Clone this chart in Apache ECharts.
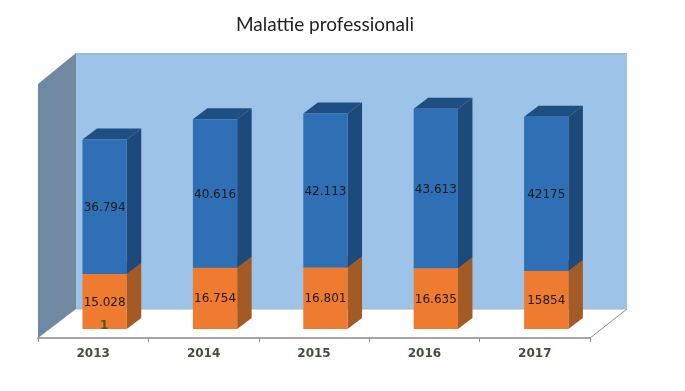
<!DOCTYPE html>
<html>
<head>
<meta charset="utf-8">
<style>html,body{margin:0;padding:0;background:#fff}#c{width:685px;height:391px}</style>
<script src="https://cdn.jsdelivr.net/npm/echarts@6/dist/echarts.min.js"></script>
</head>
<body>
<div id="c"></div>
<script>
const categories = ['2013', '2014', '2015', '2016', '2017'];
const orangeValues = [15028, 16754, 16801, 16635, 15854];
const blueValues = [36794, 40616, 42113, 43613, 42175];
const orangeLabels = ['15.028', '16.754', '16.801', '16.635', '15854'];
const blueLabels = ['36.794', '40.616', '42.113', '43.613', '42175'];
const thirdValues = [1, null, null, null, null];

const chart = echarts.init(document.getElementById('c'), null, {renderer: 'canvas'});
const DX = 14.5, DY = 11;

function barItem(colors, labels) {
  return function (params, api) {
    const i = api.value(0);
    const c = api.coord([i, api.value(1)]);
    const t = api.coord([i, api.value(2)]);
    const w = api.size([1, 0])[0];
    const x0 = c[0] - w * 0.097, x1 = c[0] + w * 0.304;
    const y0 = c[1], y1 = t[1];
    const children = [
      {type: 'polygon', shape: {points: [[x1, y0], [x1 + DX, y0 - DY], [x1 + DX, y1 - DY], [x1, y1]]}, style: {fill: colors.side}},
      {type: 'polygon', shape: {points: [[x0, y1], [x1, y1], [x1 + DX, y1 - DY], [x0 + DX, y1 - DY]]}, style: {fill: colors.top}},
      {type: 'rect', shape: {x: x0, y: y1, width: x1 - x0, height: y0 - y1}, style: {fill: colors.front}},
      {type: 'text', style: {x: (x0 + x1) / 2, y: (y0 + y1) / 2 + 1, text: labels[i], fill: '#1f1a1a',
        font: '12px "DejaVu Sans"', align: 'center', verticalAlign: 'middle'}}
    ];
    return {type: 'group', children};
  };
}

function wallItem(params) {
  const g = params.coordSys;
  const left = g.x, right = g.x + g.width;
  const front = g.y + g.height + 9, back = front - 29;
  const depth = 38;
  const frontTop = 84, backTop = 53;
  return {type: 'group', children: [
    {type: 'rect', shape: {x: left + depth, y: backTop, width: right - left - 1, height: back - backTop},
      style: {fill: '#9EC3E8'}},
    {type: 'rect', shape: {x: left + depth, y: backTop, width: right - left - 1, height: 2},
      style: {fill: '#9DB9D8'}},
    {type: 'polygon', shape: {points: [[left, frontTop], [left + depth, backTop], [left + depth, back], [left, front]]},
      style: {fill: new echarts.graphic.LinearGradient(0, 0, 1, 0, [
        {offset: 0, color: '#6C88A4'}, {offset: 1, color: '#74899E'}])}},
    {type: 'line', shape: {x1: left + depth, y1: back, x2: right + depth - 1, y2: back},
      style: {stroke: '#A9B4BF', lineWidth: 1}},
    {type: 'line', shape: {x1: right + depth - 1, y1: back, x2: right, y2: front},
      style: {stroke: '#8C8C8C', lineWidth: 1}}
  ]};
}

chart.setOption({
  animation: false,
  backgroundColor: '#fff',
  title: {
    text: 'Malattie professionali', left: 320, top: 10, textAlign: 'center',
    textStyle: {fontFamily: 'Lato', fontWeight: 'normal', fontSize: 19, color: '#222'}
  },
  grid: {left: 38, right: 95, top: 73, bottom: 62},
  xAxis: {
    type: 'category', data: categories, offset: 9,
    axisLine: {onZero: false, lineStyle: {color: '#A6A6A6', width: 2}},
    axisTick: {show: true, alignWithLabel: false, length: 4, lineStyle: {color: '#8C8C8C'}},
    axisLabel: {margin: 10, fontFamily: 'DejaVu Sans', fontWeight: 'bold', fontSize: 12, color: '#3C5233'},
    splitLine: {show: false}
  },
  yAxis: {type: 'value', min: 0, max: 70000, show: false, splitLine: {show: false}},
  series: [
    {type: 'custom', silent: true, z: 1, renderItem: wallItem, data: [[0, 0]]},
    {type: 'custom', silent: true, z: 2, clip: false,
      renderItem: barItem({front: '#EE7B30', top: '#A85A20', side: '#A35A25'}, orangeLabels),
      encode: {x: 0, y: [1, 2]},
      data: categories.map((c, i) => [i, 0, orangeValues[i]])},
    {type: 'custom', silent: true, z: 3, clip: false,
      renderItem: barItem({front: '#2E6FB5', top: '#1F4E82', side: '#1D4A7B'}, blueLabels),
      encode: {x: 0, y: [1, 2]},
      data: categories.map((c, i) => [i, orangeValues[i], orangeValues[i] + blueValues[i]])},
    {type: 'custom', silent: true, z: 4, clip: false,
      renderItem: function (params, api) {
        const p = api.coord([api.value(0), api.value(1)]);
        const w = api.size([1, 0])[0];
        return {type: 'text', style: {x: p[0] + w * 0.1, y: p[1] - 3, text: String(api.value(1)),
          fill: '#4A5A22', font: 'bold 12px "DejaVu Sans"', align: 'center', verticalAlign: 'middle'}};
      },
      encode: {x: 0, y: 1},
      data: thirdValues.map((v, i) => [i, v]).filter(d => d[1] !== null)}
  ]
});
</script>
</body>
</html>
